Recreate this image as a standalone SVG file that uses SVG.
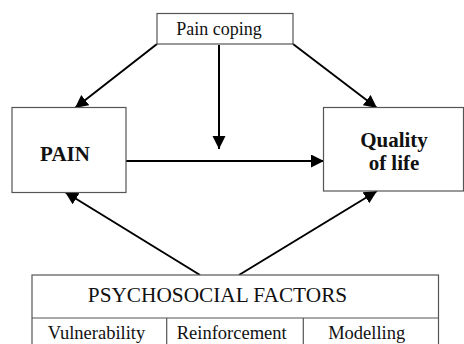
<svg xmlns="http://www.w3.org/2000/svg" width="464" height="344" viewBox="0 0 464 344">
<defs>
<style>
.box{fill:#fff;stroke:#555;stroke-width:1.2}
.t{font-family:"Liberation Serif","Times New Roman",serif;fill:#111;text-anchor:middle}
.b{font-weight:bold}
.c{stroke:#000;stroke-width:2;fill:none;marker-end:url(#ah)}
</style>
<marker id="ah" markerUnits="userSpaceOnUse" markerWidth="14" markerHeight="14" refX="13" refY="6.5" orient="auto">
<path d="M0,0 L13,6.5 L0,13 z" fill="#000"/>
</marker>
</defs>
<rect width="464" height="344" fill="#fff"/>
<g id="connectors">
<line class="c" x1="157" y1="44" x2="75" y2="108"/>
<line class="c" x1="293" y1="44" x2="377" y2="108"/>
<line class="c" x1="219" y1="45" x2="219" y2="149"/>
<line class="c" x1="126" y1="161" x2="324" y2="161"/>
<line class="c" x1="200" y1="275" x2="65" y2="192"/>
<line class="c" x1="239" y1="275" x2="377" y2="191"/>
</g>
<g id="pain-coping">
<rect class="box" x="157" y="13.5" width="136" height="30.5"/>
<text class="t" x="219" y="35" font-size="18">Pain coping</text>
</g>
<g id="pain">
<rect class="box" x="12" y="107.5" width="114" height="85"/>
<text class="t b" x="65" y="161" font-size="21">PAIN</text>
</g>
<g id="quality">
<rect class="box" x="323.5" y="107.5" width="140" height="83.5"/>
<text class="t b" x="394" y="147" font-size="21">Quality</text>
<text class="t b" x="394" y="170" font-size="21">of life</text>
</g>
<g id="psychosocial">
<rect class="box" x="32" y="275" width="406.5" height="80"/>
<line class="box" x1="32" y1="318" x2="438.5" y2="318"/>
<line class="box" x1="166.7" y1="318" x2="166.7" y2="355"/>
<line class="box" x1="303.3" y1="318" x2="303.3" y2="355"/>
<text class="t" x="217.5" y="302" font-size="21.3">PSYCHOSOCIAL FACTORS</text>
<text class="t" x="96.5" y="339" font-size="18.5">Vulnerability</text>
<text class="t" x="231.7" y="339" font-size="18.5">Reinforcement</text>
<text class="t" x="366.7" y="339" font-size="18.5">Modelling</text>
</g>
</svg>
